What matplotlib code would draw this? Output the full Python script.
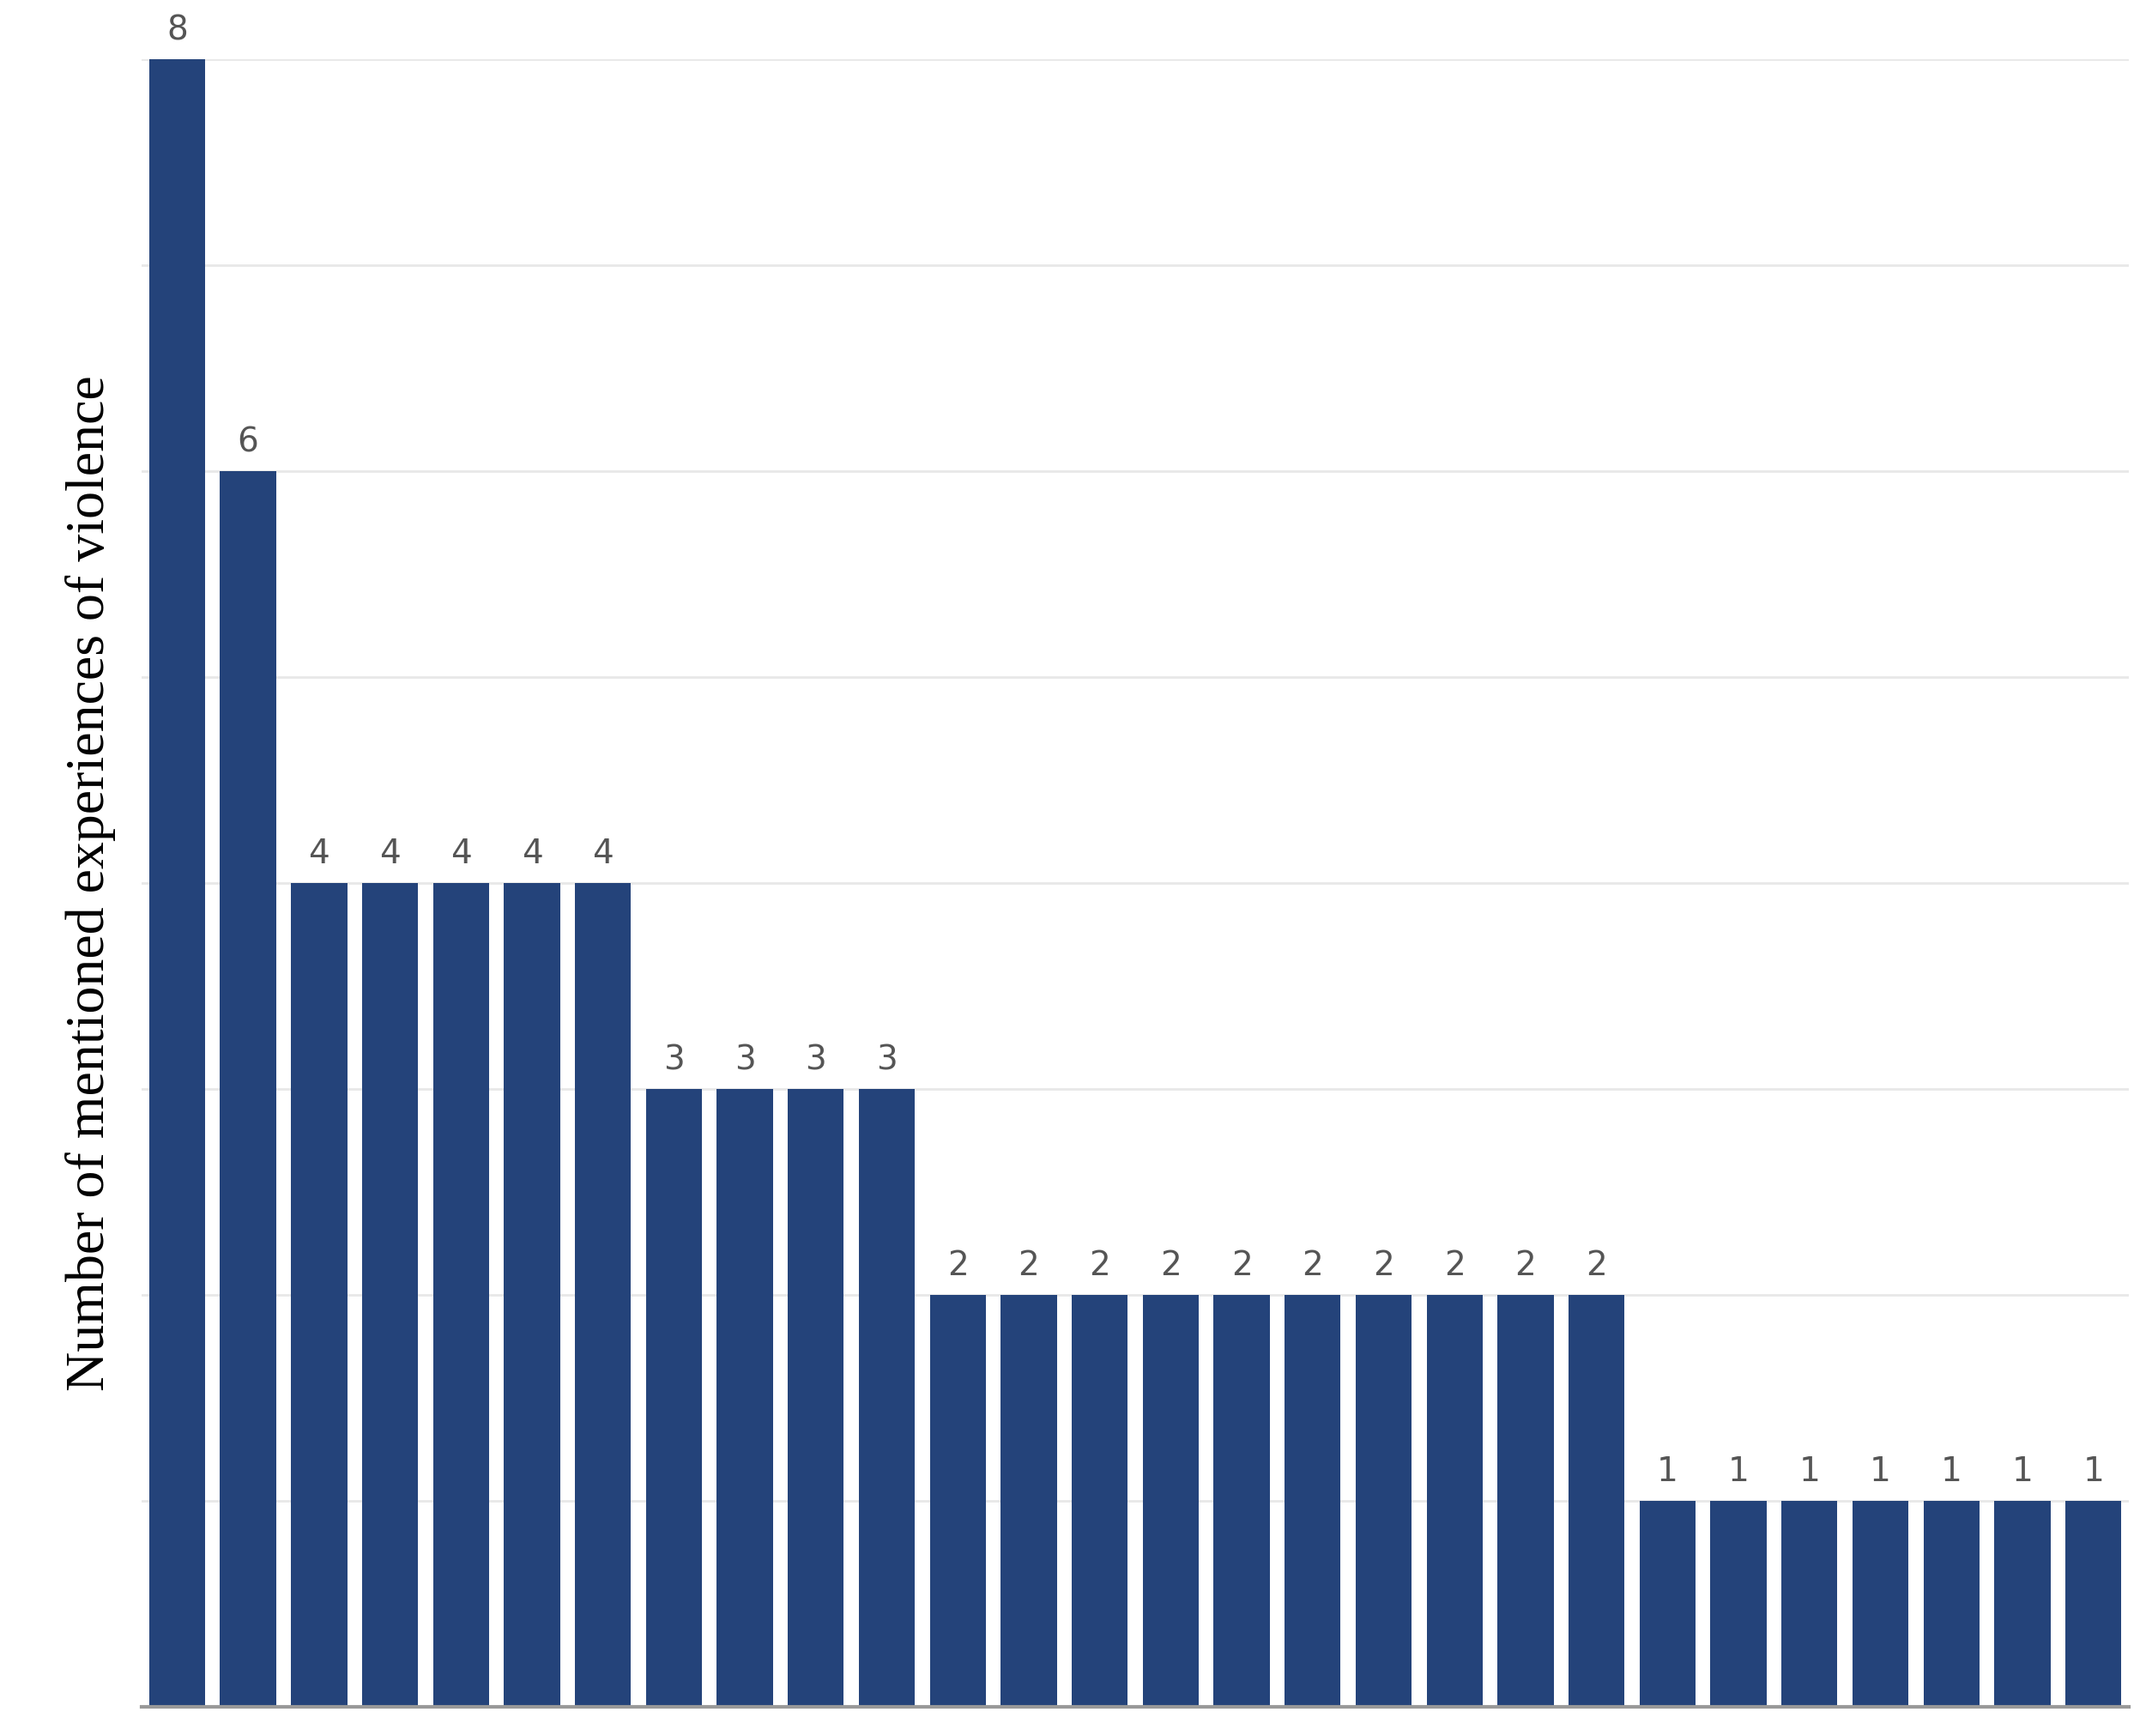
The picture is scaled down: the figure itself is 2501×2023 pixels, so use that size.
import matplotlib.pyplot as plt

counts = [8, 6, 4, 4, 4, 4, 4, 3, 3, 3, 3, 2, 2, 2, 2, 2, 2, 2, 2, 2, 2, 1, 1, 1, 1, 1, 1, 1]
positions = list(range(len(counts)))

fig = plt.figure(figsize=(25.01, 20.23), dpi=100)
ax = fig.add_axes([0.066, 0.017, 0.926, 0.949])

ax.bar(positions, counts, width=0.79, color="#24437A", zorder=2)
for x, v in zip(positions, counts):
    ax.text(x, v + 0.06, str(v), ha="center", va="bottom", fontsize=28,
            color="#555555", clip_on=False)

ax.set_ylim(0, 8)
ax.set_xlim(-0.5, len(counts) - 0.5)
ax.set_yticks(range(1, 9))
ax.yaxis.grid(True, color="#e8e8e8", linewidth=2, zorder=0)
ax.tick_params(left=False, bottom=False, labelleft=False, labelbottom=False)
for s in ["top", "right", "left"]:
    ax.spines[s].set_visible(False)
ax.spines["bottom"].set_color("#999999")
ax.spines["bottom"].set_linewidth(3)

ax.set_ylabel("Number of mentioned experiences of violence", fontsize=46,
              family="Liberation Serif", labelpad=22)

fig.savefig("out.png", dpi=100)
